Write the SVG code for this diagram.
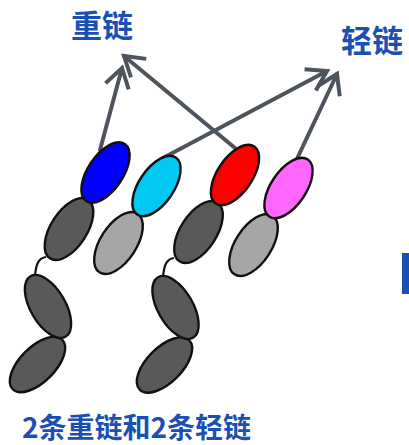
<svg xmlns="http://www.w3.org/2000/svg" width="409" height="445" viewBox="0 0 409 445">
  <style>
    .label { font-family: "Noto Sans CJK SC", "Noto Sans", sans-serif; font-weight: 700; fill: #1a50b4; }
    .conn { stroke: #4d545c; stroke-width: 4; fill: none; stroke-linecap: round; }
    .dom { stroke: #111; stroke-width: 2.4; }
    .hinge { stroke: #111; stroke-width: 2.2; fill: none; }
    .heavy-c { fill: #595959; }
    .light-c { fill: #a6a6a6; }
  </style>
  <defs>
    <marker id="chev" markerUnits="userSpaceOnUse" markerWidth="40" markerHeight="40" viewBox="-24 -20 40 40" refX="0" refY="0" orient="auto">
      <path d="M-19,-12 L0,0 L-19,12" fill="none" stroke="#4d545c" stroke-width="4" stroke-linejoin="miter"/>
    </marker>
  </defs>

  <rect width="409" height="445" fill="#ffffff"/>

  <!-- connectors from variable domains to their chain labels -->
  <g id="connectors">
    <line class="conn" x1="100" y1="150" x2="122" y2="68" marker-end="url(#chev)"/>
    <line class="conn" x1="235" y1="148" x2="124" y2="56" marker-end="url(#chev)"/>
    <line class="conn" x1="163" y1="158" x2="327" y2="71" marker-end="url(#chev)"/>
    <line class="conn" x1="295" y1="163" x2="337" y2="74" marker-end="url(#chev)"/>
  </g>

  <!-- heavy chain 1 -->
  <g id="heavy1">
    <path class="hinge" d="M46,257 C38,258 36,265 35,276"/>
    <ellipse class="dom heavy-c" cx="37.5" cy="364.5" rx="35" ry="17.5" transform="rotate(-45 37.5 364.5)"/>
    <ellipse class="dom heavy-c" cx="48" cy="306.5" rx="35" ry="17.5" transform="rotate(60 48 306.5)"/>
    <ellipse class="dom heavy-c" cx="69" cy="229" rx="35" ry="18" transform="rotate(-57 69 229)"/>
    <ellipse class="dom" fill="#0000ff" cx="105.5" cy="172.5" rx="34.5" ry="17.5" transform="rotate(-56 105.5 172.5)"/>
  </g>

  <!-- light chain 1 -->
  <g id="light1">
    <ellipse class="dom light-c" cx="118.5" cy="243" rx="35" ry="18" transform="rotate(-57 118.5 243)"/>
    <ellipse class="dom" fill="#00c8f2" cx="156.5" cy="186" rx="34.5" ry="17.5" transform="rotate(-56 156.5 186)"/>
  </g>

  <!-- heavy chain 2 -->
  <g id="heavy2">
    <path class="hinge" d="M174,258 C166,259 164,266 163,277"/>
    <ellipse class="dom heavy-c" cx="164.5" cy="365" rx="35" ry="17.5" transform="rotate(-45 164.5 365)"/>
    <ellipse class="dom heavy-c" cx="175.5" cy="307.5" rx="35" ry="17.5" transform="rotate(60 175.5 307.5)"/>
    <ellipse class="dom heavy-c" cx="198.5" cy="232" rx="35" ry="18" transform="rotate(-57 198.5 232)"/>
    <ellipse class="dom" fill="#ff0000" cx="235" cy="175" rx="34.5" ry="17.5" transform="rotate(-56 235 175)"/>
  </g>

  <!-- light chain 2 -->
  <g id="light2">
    <ellipse class="dom light-c" cx="253.5" cy="245" rx="35" ry="18" transform="rotate(-57 253.5 245)"/>
    <ellipse class="dom" fill="#ff66ff" cx="288.5" cy="188" rx="34.5" ry="17.5" transform="rotate(-56 288.5 188)"/>
  </g>

  <!-- labels -->
  <g id="label-heavy"><text class="label" x="71" y="37" font-size="31">重链</text></g>
  <g id="label-light"><text class="label" x="341" y="52" font-size="31">轻链</text></g>
  <g id="caption"><text class="label" x="22" y="438" font-size="28">2条重链和2条轻链</text></g>

  <!-- edge of an adjacent panel -->
  <rect x="402" y="253" width="7" height="41" fill="#1a50b4"/>
</svg>
